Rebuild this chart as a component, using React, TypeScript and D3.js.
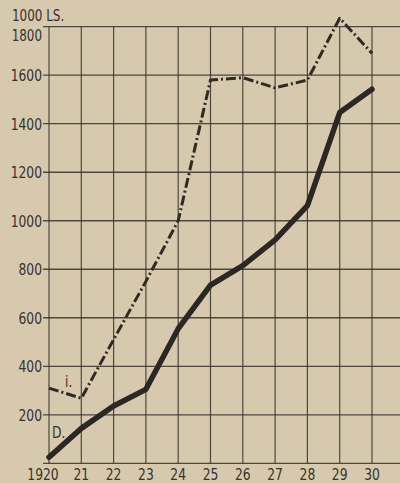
import React from "react";
import * as d3 from "d3";

const years = [1920, 1921, 1922, 1923, 1924, 1925, 1926, 1927, 1928, 1929, 1930];
const yearLabels = ["1920", "21", "22", "23", "24", "25", "26", "27", "28", "29", "30"];
const seriesI = [310, 268, 510, 750, 1000, 1580, 1590, 1548, 1580, 1835, 1690];
const seriesD = [25, 144, 236, 305, 555, 735, 815, 921, 1062, 1446, 1542];
const yTicks = [200, 400, 600, 800, 1000, 1200, 1400, 1600, 1800];
const gridValues = [0, 200, 400, 600, 800, 1000, 1200, 1400, 1600, 1800];
const unitLabel = "1000 LS.";
const labelI = "i.";
const labelD = "D.";

const W = 400;
const H = 483;
const BG = "#d6c9ae";
const INK = "#37322c";
const FONT = "'DejaVu Sans Condensed', 'DejaVu Sans', sans-serif";

function NText({ x, y, anchor = "start", size = 16.5, children }: any) {
  return (
    <text
      transform={`translate(${x},${y}) scale(0.83,1)`}
      textAnchor={anchor}
      fontSize={size}
      fill={INK}
    >
      {children}
    </text>
  );
}

export default function App() {
  const x = d3.scaleLinear().domain([1920, 1930]).range([49, 372]);
  const y = d3.scaleLinear().domain([0, 1800]).range([463.3, 26.7]);
  const line = d3
    .line<number>()
    .x((_, i) => x(years[i]))
    .y((v) => y(v))
    .curve(d3.curveLinear);

  return (
    <svg
      width={W}
      height={H}
      style={{ position: "fixed", left: 0, top: 0, background: BG }}
      fontFamily={FONT}
    >
      <rect x={0} y={0} width={W} height={H} fill={BG} />
      {gridValues.map((v) => (
        <line key={"h" + v} x1={43} x2={W} y1={y(v)} y2={y(v)} stroke={INK} strokeWidth={1.3} opacity={0.85} />
      ))}
      {years.map((yr) => (
        <line key={"v" + yr} x1={x(yr)} x2={x(yr)} y1={y(1800)} y2={y(0)} stroke={INK} strokeWidth={1.2} opacity={0.85} />
      ))}
      {yTicks.map((v) => (
        <NText key={"yt" + v} x={42} y={v === 1800 ? y(v) + 14 : y(v) + 6} anchor="end" size={v === 1800 ? 16 : 16.5}>
          {v}
        </NText>
      ))}
      <NText x={12} y={21} size={16}>
        {unitLabel}
      </NText>
      {years.map((yr, i) => (
        <NText key={"xt" + yr} x={i === 0 ? x(yr) - 6 : x(yr)} y={480} anchor="middle">
          {yearLabels[i]}
        </NText>
      ))}
      <path
        d={line(seriesI) || ""}
        fill="none"
        stroke="#2e2a25"
        strokeWidth={3}
        strokeDasharray="10,3,2,3"
        strokeLinejoin="round"
      />
      <path
        d={line(seriesD) || ""}
        fill="none"
        stroke="#2b2723"
        strokeWidth={5.5}
        strokeLinejoin="round"
        strokeLinecap="round"
      />
      <NText x={65} y={387}>
        {labelI}
      </NText>
      <NText x={52} y={438}>
        {labelD}
      </NText>
    </svg>
  );
}
